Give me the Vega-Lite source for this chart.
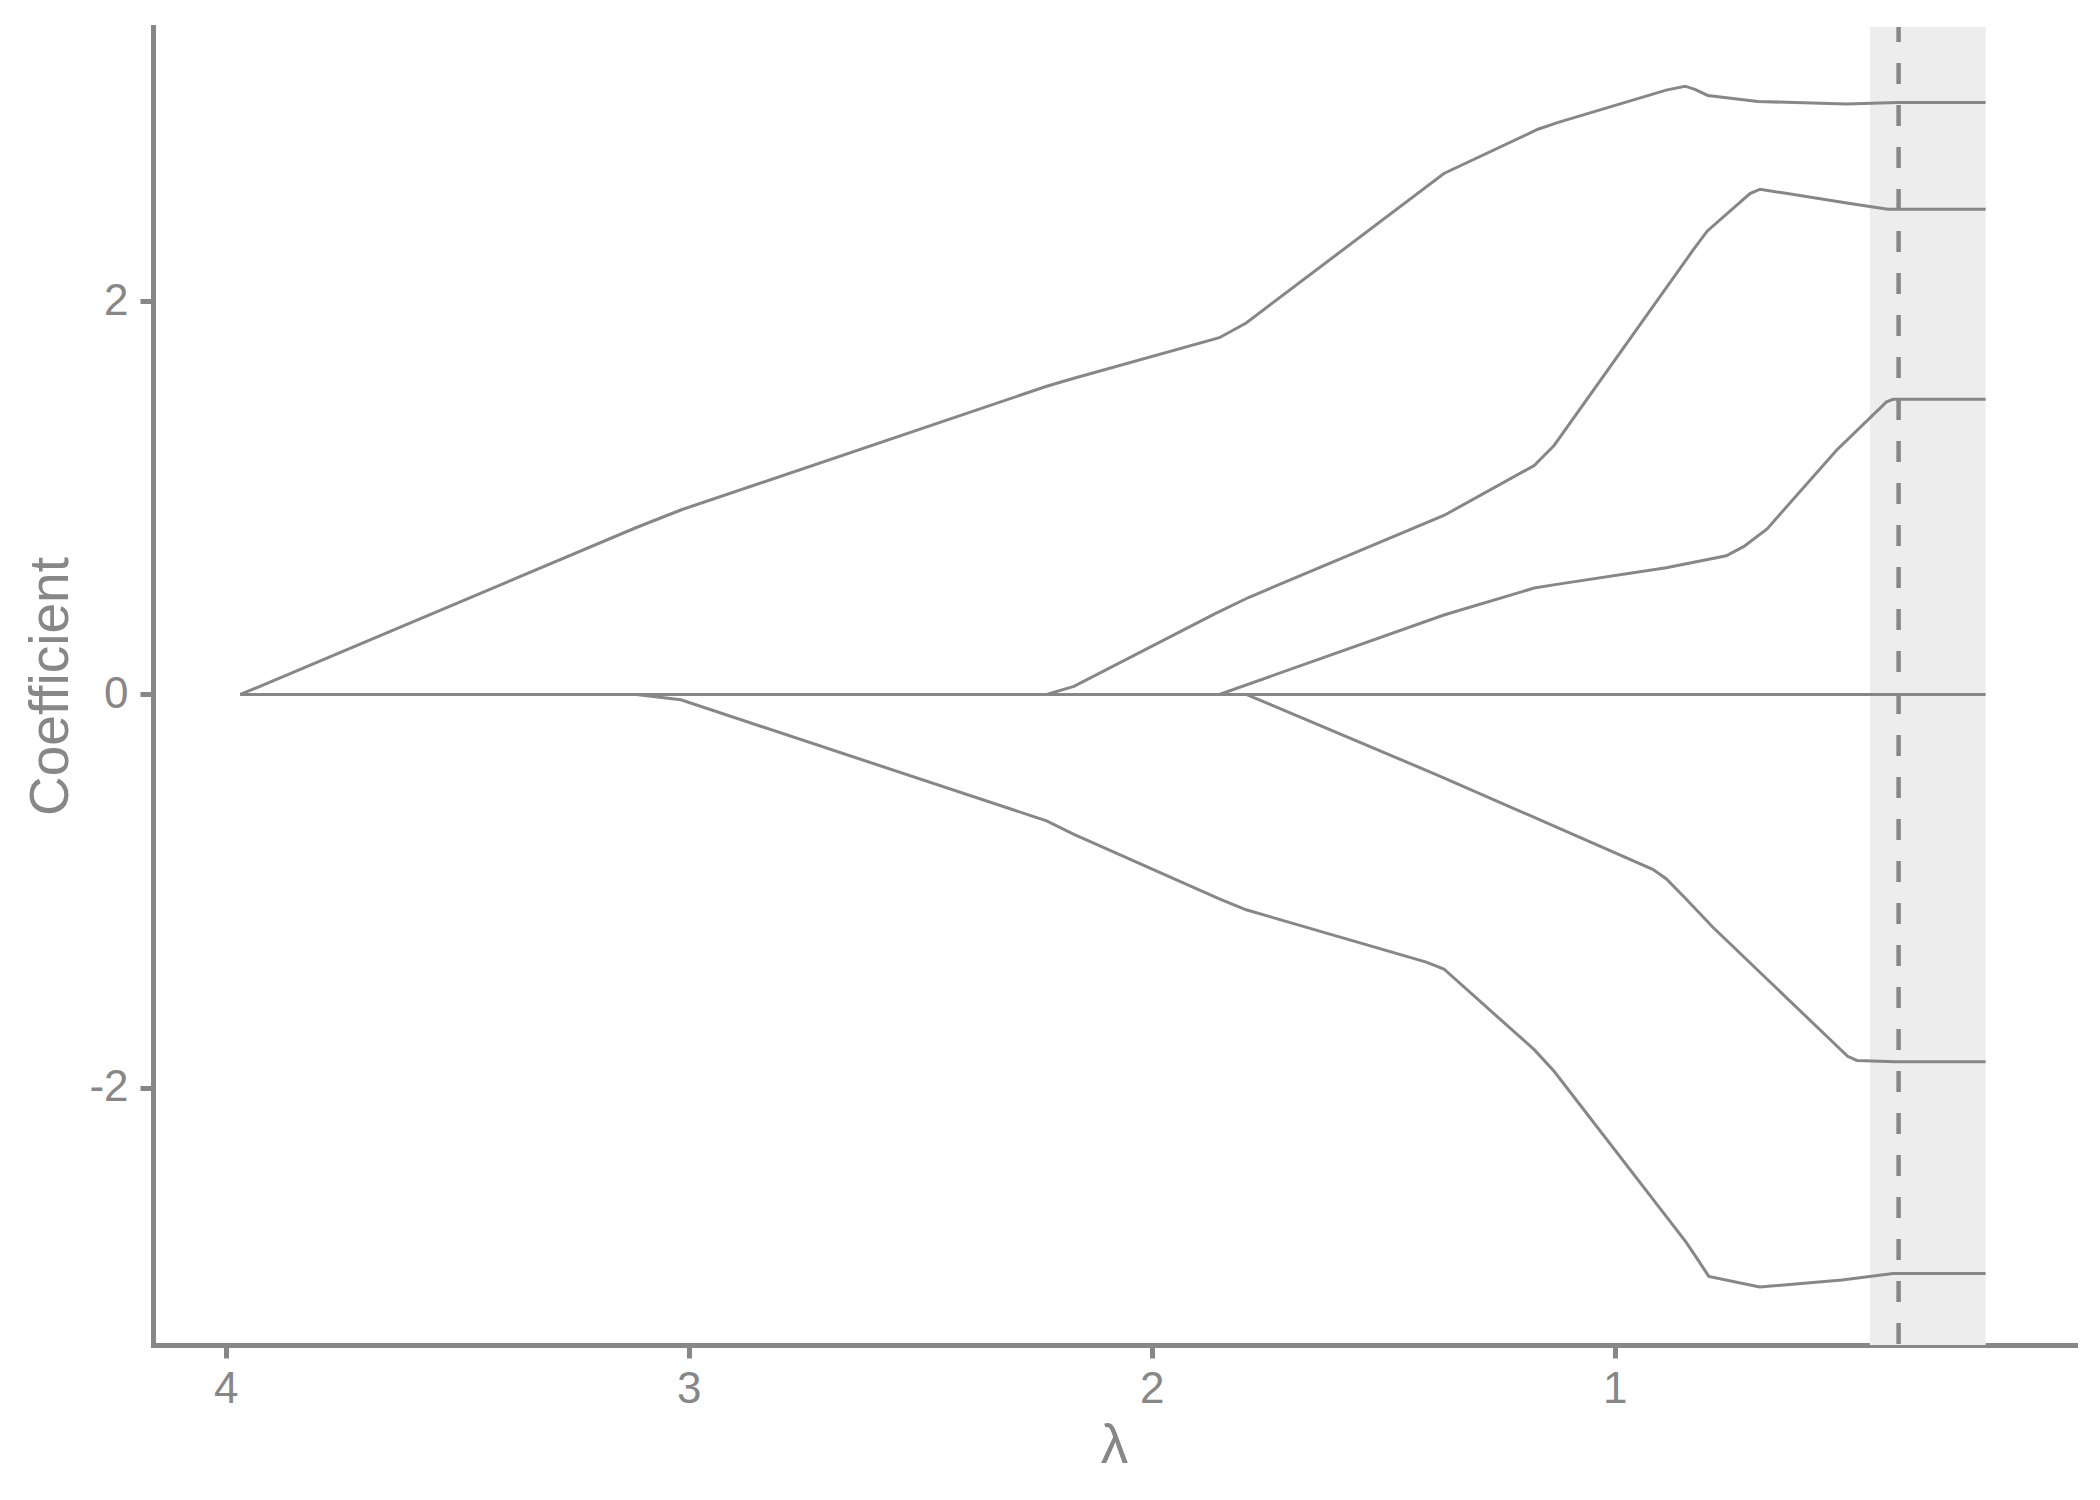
{
  "$schema": "https://vega.github.io/schema/vega-lite/v6.json",
  "width": 1922,
  "height": 1318,
  "autosize": {"type": "none"},
  "padding": {"left": 153, "top": 27, "right": 25, "bottom": 155},
  "background": "white",
  "datasets": {
    "paths": [
      {"lambda": 3.968, "coef": 0, "var": "A"},
      {"lambda": 3.113, "coef": 0.849, "var": "A"},
      {"lambda": 3.017, "coef": 0.938, "var": "A"},
      {"lambda": 2.227, "coef": 1.567, "var": "A"},
      {"lambda": 2.168, "coef": 1.608, "var": "A"},
      {"lambda": 1.854, "coef": 1.814, "var": "A"},
      {"lambda": 1.796, "coef": 1.889, "var": "A"},
      {"lambda": 1.369, "coef": 2.649, "var": "A"},
      {"lambda": 1.166, "coef": 2.874, "var": "A"},
      {"lambda": 1.122, "coef": 2.909, "var": "A"},
      {"lambda": 0.889, "coef": 3.073, "var": "A"},
      {"lambda": 0.848, "coef": 3.093, "var": "A"},
      {"lambda": 0.827, "coef": 3.077, "var": "A"},
      {"lambda": 0.799, "coef": 3.046, "var": "A"},
      {"lambda": 0.691, "coef": 3.015, "var": "A"},
      {"lambda": 0.500, "coef": 3.003, "var": "A"},
      {"lambda": 0.390, "coef": 3.010, "var": "A"},
      {"lambda": 0.199, "coef": 3.010, "var": "A"},

      {"lambda": 3.968, "coef": 0, "var": "B"},
      {"lambda": 2.227, "coef": 0, "var": "B"},
      {"lambda": 2.168, "coef": 0.041, "var": "B"},
      {"lambda": 1.863, "coef": 0.411, "var": "B"},
      {"lambda": 1.791, "coef": 0.493, "var": "B"},
      {"lambda": 1.369, "coef": 0.910, "var": "B"},
      {"lambda": 1.174, "coef": 1.164, "var": "B"},
      {"lambda": 1.131, "coef": 1.266, "var": "B"},
      {"lambda": 0.831, "coef": 2.259, "var": "B"},
      {"lambda": 0.800, "coef": 2.357, "var": "B"},
      {"lambda": 0.708, "coef": 2.547, "var": "B"},
      {"lambda": 0.686, "coef": 2.569, "var": "B"},
      {"lambda": 0.492, "coef": 2.496, "var": "B"},
      {"lambda": 0.410, "coef": 2.467, "var": "B"},
      {"lambda": 0.199, "coef": 2.467, "var": "B"},

      {"lambda": 3.968, "coef": 0, "var": "C"},
      {"lambda": 1.854, "coef": 0, "var": "C"},
      {"lambda": 1.369, "coef": 0.404, "var": "C"},
      {"lambda": 1.174, "coef": 0.541, "var": "C"},
      {"lambda": 1.122, "coef": 0.561, "var": "C"},
      {"lambda": 0.889, "coef": 0.644, "var": "C"},
      {"lambda": 0.802, "coef": 0.685, "var": "C"},
      {"lambda": 0.759, "coef": 0.705, "var": "C"},
      {"lambda": 0.721, "coef": 0.753, "var": "C"},
      {"lambda": 0.671, "coef": 0.842, "var": "C"},
      {"lambda": 0.521, "coef": 1.242, "var": "C"},
      {"lambda": 0.413, "coef": 1.488, "var": "C"},
      {"lambda": 0.399, "coef": 1.501, "var": "C"},
      {"lambda": 0.199, "coef": 1.501, "var": "C"},

      {"lambda": 3.968, "coef": 0, "var": "D"},
      {"lambda": 0.199, "coef": 0, "var": "D"},

      {"lambda": 3.968, "coef": 0, "var": "E"},
      {"lambda": 1.796, "coef": 0, "var": "E"},
      {"lambda": 1.747, "coef": -0.048, "var": "E"},
      {"lambda": 1.383, "coef": -0.410, "var": "E"},
      {"lambda": 0.918, "coef": -0.889, "var": "E"},
      {"lambda": 0.889, "coef": -0.937, "var": "E"},
      {"lambda": 0.846, "coef": -1.040, "var": "E"},
      {"lambda": 0.788, "coef": -1.184, "var": "E"},
      {"lambda": 0.497, "coef": -1.840, "var": "E"},
      {"lambda": 0.477, "coef": -1.861, "var": "E"},
      {"lambda": 0.395, "coef": -1.868, "var": "E"},
      {"lambda": 0.199, "coef": -1.868, "var": "E"},

      {"lambda": 3.968, "coef": 0, "var": "F"},
      {"lambda": 3.113, "coef": 0, "var": "F"},
      {"lambda": 3.017, "coef": -0.027, "var": "F"},
      {"lambda": 2.227, "coef": -0.643, "var": "F"},
      {"lambda": 2.168, "coef": -0.711, "var": "F"},
      {"lambda": 1.854, "coef": -1.040, "var": "F"},
      {"lambda": 1.796, "coef": -1.095, "var": "F"},
      {"lambda": 1.407, "coef": -1.361, "var": "F"},
      {"lambda": 1.369, "coef": -1.396, "var": "F"},
      {"lambda": 1.174, "coef": -1.806, "var": "F"},
      {"lambda": 1.131, "coef": -1.916, "var": "F"},
      {"lambda": 0.846, "coef": -2.785, "var": "F"},
      {"lambda": 0.817, "coef": -2.887, "var": "F"},
      {"lambda": 0.797, "coef": -2.959, "var": "F"},
      {"lambda": 0.687, "coef": -3.013, "var": "F"},
      {"lambda": 0.509, "coef": -2.978, "var": "F"},
      {"lambda": 0.399, "coef": -2.945, "var": "F"},
      {"lambda": 0.199, "coef": -2.945, "var": "F"}
    ],
    "band": [{"lo": 0.449, "hi": 0.199}],
    "cv": [{"lambda": 0.387}]
  },
  "layer": [
    {
      "data": {"name": "band"},
      "mark": {"type": "rect", "color": "#ededed"},
      "encoding": {
        "x": {"field": "lo", "type": "quantitative"},
        "x2": {"field": "hi"}
      }
    },
    {
      "data": {"name": "paths"},
      "mark": {"type": "line", "color": "#878787", "strokeWidth": 3},
      "encoding": {
        "x": {
          "field": "lambda",
          "type": "quantitative",
          "scale": {"domain": [0.006, 4.157], "reverse": true, "nice": false, "zero": false},
          "axis": {
            "title": "λ",
            "values": [1, 2, 3, 4],
            "labelExpr": "'' + datum.value",
            "labelPadding": 9,
            "titleBaseline": "alphabetic",
            "titleY": 117
          }
        },
        "y": {
          "field": "coef",
          "type": "quantitative",
          "scale": {"domain": [-3.308, 3.394], "nice": false, "zero": false},
          "axis": {
            "title": "Coefficient",
            "values": [-2, 0, 2],
            "labelExpr": "'' + datum.value",
            "labelPadding": 12,
            "titleBaseline": "alphabetic",
            "titleAngle": -90,
            "titleAlign": "center",
            "titleX": -86,
            "titleY": 659
          }
        },
        "detail": {"field": "var", "type": "nominal"}
      }
    },
    {
      "data": {"name": "cv"},
      "mark": {"type": "rule", "color": "#878787", "strokeWidth": 4.5, "strokeDash": [21, 21], "strokeDashOffset": 6},
      "encoding": {
        "x": {"field": "lambda", "type": "quantitative"}
      }
    }
  ],
  "config": {
    "view": {"stroke": null},
    "font": "Liberation Sans",
    "axis": {
      "grid": false,
      "domainColor": "#878787",
      "domainWidth": 5,
      "domainCap": "square",
      "tickColor": "#878787",
      "tickWidth": 5,
      "tickSize": 13,
      "labelColor": "#878787",
      "labelFont": "Liberation Sans",
      "labelFontSize": 44,
      "titleColor": "#878787",
      "titleFont": "Liberation Sans",
      "titleFontSize": 55,
      "titleFontWeight": "normal"
    }
  }
}
